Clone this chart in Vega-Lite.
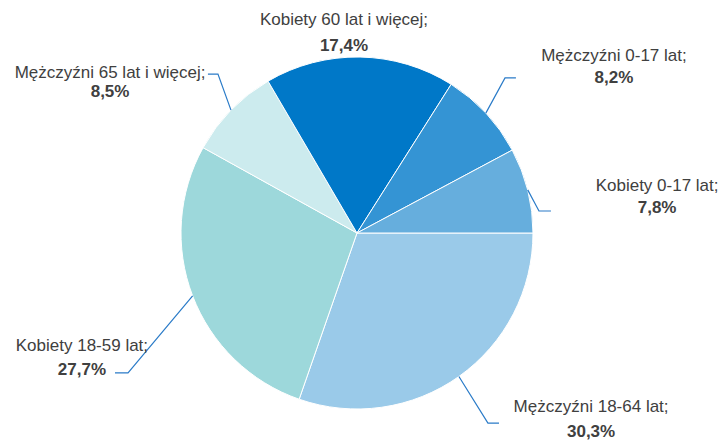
{
  "$schema": "https://vega.github.io/schema/vega-lite/v6.json",
  "width": 726,
  "height": 440,
  "autosize": {"type": "fit", "contains": "padding"},
  "padding": 0,
  "background": "white",
  "config": {"view": {"stroke": null}, "font": "Liberation Sans"},
  "datasets": {
    "slices": [
      {"group": "Mężczyźni 18-64 lat", "share": 30.3, "ord": 1},
      {"group": "Kobiety 18-59 lat", "share": 27.7, "ord": 2},
      {"group": "Mężczyźni 65 lat i więcej", "share": 8.5, "ord": 3},
      {"group": "Kobiety 60 lat i więcej", "share": 17.4, "ord": 4},
      {"group": "Mężczyźni 0-17 lat", "share": 8.2, "ord": 5},
      {"group": "Kobiety 0-17 lat", "share": 7.8, "ord": 6}
    ],
    "leaders": [
      {"group": "Mężczyźni 65 lat i więcej", "seq": 1, "x": -0.716, "y": 0.698},
      {"group": "Mężczyźni 65 lat i więcej", "seq": 2, "x": -0.79, "y": 0.903},
      {"group": "Mężczyźni 65 lat i więcej", "seq": 3, "x": -0.847, "y": 0.903},
      {"group": "Mężczyźni 0-17 lat", "seq": 1, "x": 0.732, "y": 0.681},
      {"group": "Mężczyźni 0-17 lat", "seq": 2, "x": 0.841, "y": 0.881},
      {"group": "Mężczyźni 0-17 lat", "seq": 3, "x": 0.903, "y": 0.881},
      {"group": "Kobiety 0-17 lat", "seq": 1, "x": 0.97, "y": 0.245},
      {"group": "Kobiety 0-17 lat", "seq": 2, "x": 1.034, "y": 0.125},
      {"group": "Kobiety 0-17 lat", "seq": 3, "x": 1.102, "y": 0.125},
      {"group": "Mężczyźni 18-64 lat", "seq": 1, "x": 0.579, "y": -0.815},
      {"group": "Mężczyźni 18-64 lat", "seq": 2, "x": 0.744, "y": -1.08},
      {"group": "Mężczyźni 18-64 lat", "seq": 3, "x": 0.807, "y": -1.08},
      {"group": "Kobiety 18-59 lat", "seq": 1, "x": -0.934, "y": -0.357},
      {"group": "Kobiety 18-59 lat", "seq": 2, "x": -1.301, "y": -0.795},
      {"group": "Kobiety 18-59 lat", "seq": 3, "x": -1.375, "y": -0.795}
    ],
    "labels": [
      {"group": "Kobiety 60 lat i więcej", "line1": "Kobiety 60 lat i więcej;", "line2": "17,4%", "lx": -0.074, "ly1": 1.182, "ly2": 1.033},
      {"group": "Mężczyźni 65 lat i więcej", "line1": "Mężczyźni 65 lat i więcej;", "line2": "8,5%", "lx": -1.403, "ly1": 0.881, "ly2": 0.773},
      {"group": "Mężczyźni 0-17 lat", "line1": "Mężczyźni 0-17 lat;", "line2": "8,2%", "lx": 1.46, "ly1": 0.977, "ly2": 0.852},
      {"group": "Kobiety 0-17 lat", "line1": "Kobiety 0-17 lat;", "line2": "7,8%", "lx": 1.705, "ly1": 0.239, "ly2": 0.114},
      {"group": "Kobiety 18-59 lat", "line1": "Kobiety 18-59 lat;", "line2": "27,7%", "lx": -1.563, "ly1": -0.67, "ly2": -0.807},
      {"group": "Mężczyźni 18-64 lat", "line1": "Mężczyźni 18-64 lat;", "line2": "30,3%", "lx": 1.33, "ly1": -1.017, "ly2": -1.159}
    ]
  },
  "layer": [
    {
      "data": {"name": "slices"},
      "mark": {"type": "arc", "outerRadius": 176, "stroke": "white", "strokeWidth": 1},
      "encoding": {
        "theta": {"field": "share", "type": "quantitative", "stack": true, "scale": {"range": [1.5708, 7.854]}},
        "order": {"field": "ord", "type": "quantitative"},
        "color": {
          "field": "group",
          "type": "nominal",
          "scale": {
            "domain": ["Mężczyźni 18-64 lat", "Kobiety 18-59 lat", "Mężczyźni 65 lat i więcej", "Kobiety 60 lat i więcej", "Mężczyźni 0-17 lat", "Kobiety 0-17 lat"],
            "range": ["#9ACAE9", "#9DD8DB", "#CCEBEE", "#0078C8", "#3494D4", "#66AEDD"]
          },
          "legend": null
        },
        "x": {"datum": 0, "type": "quantitative", "scale": {"domain": [-2.0284, 2.0966], "nice": false, "zero": false}, "axis": null},
        "y": {"datum": 0, "type": "quantitative", "scale": {"domain": [-1.1761, 1.3239], "nice": false, "zero": false}, "axis": null}
      }
    },
    {
      "data": {"name": "leaders"},
      "mark": {"type": "line", "color": "#2a7bc8", "strokeWidth": 1.2},
      "encoding": {
        "x": {"field": "x", "type": "quantitative", "scale": {"domain": [-2.0284, 2.0966], "nice": false, "zero": false}, "axis": null},
        "y": {"field": "y", "type": "quantitative", "scale": {"domain": [-1.1761, 1.3239], "nice": false, "zero": false}, "axis": null},
        "detail": {"field": "group", "type": "nominal"},
        "order": {"field": "seq", "type": "quantitative"}
      }
    },
    {
      "data": {"name": "labels"},
      "mark": {"type": "text", "align": "center", "baseline": "alphabetic", "fontSize": 17, "color": "#404040"},
      "encoding": {
        "x": {"field": "lx", "type": "quantitative", "scale": {"domain": [-2.0284, 2.0966], "nice": false, "zero": false}, "axis": null},
        "y": {"field": "ly1", "type": "quantitative", "scale": {"domain": [-1.1761, 1.3239], "nice": false, "zero": false}, "axis": null},
        "text": {"field": "line1", "type": "nominal"}
      }
    },
    {
      "data": {"name": "labels"},
      "mark": {"type": "text", "align": "center", "baseline": "alphabetic", "fontSize": 17, "fontWeight": "bold", "color": "#404040"},
      "encoding": {
        "x": {"field": "lx", "type": "quantitative", "scale": {"domain": [-2.0284, 2.0966], "nice": false, "zero": false}, "axis": null},
        "y": {"field": "ly2", "type": "quantitative", "scale": {"domain": [-1.1761, 1.3239], "nice": false, "zero": false}, "axis": null},
        "text": {"field": "line2", "type": "nominal"}
      }
    }
  ]
}
